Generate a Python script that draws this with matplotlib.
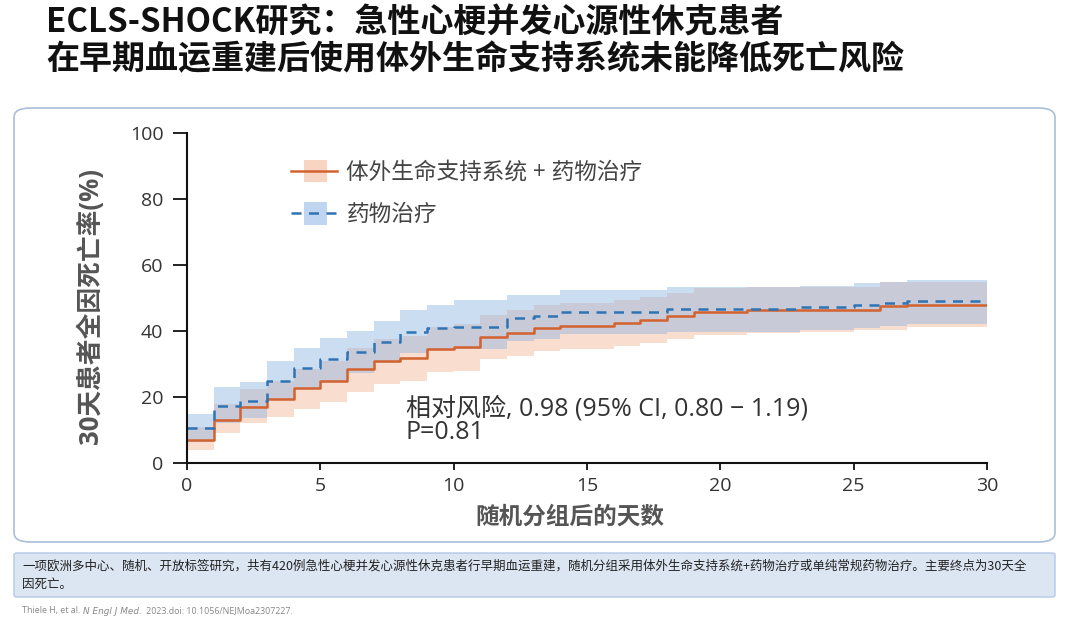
import matplotlib
matplotlib.use("Agg")
import matplotlib.pyplot as plt
import numpy as np
from matplotlib.patches import FancyBboxPatch, Rectangle
from matplotlib.lines import Line2D
from matplotlib.legend_handler import HandlerBase

plt.rcParams['font.family'] = ['Noto Sans CJK SC', 'DejaVu Sans']
LAT = ['Open Sans', 'Noto Sans CJK SC', 'DejaVu Sans']

# ---------------- data ----------------
days = list(range(0, 31))  # step starts; last value held to day 30
ecls = [7, 13, 17, 19.5, 22.7, 25, 28.4, 31, 31.8, 34.5, 35.2, 38.3, 39.5, 40.8, 41.5,
        41.5, 42.5, 43.3, 44.6, 45.9, 45.9, 46.4, 46.4, 46.4, 46.4, 46.4, 47.7, 47.8, 47.8, 47.8, 47.8]
ecls_lo = [4, 9, 12, 14, 16.5, 18.5, 21.5, 24, 25, 27.5, 28, 31.5, 32.5, 33.8, 34.5,
           34.5, 35.5, 36.3, 37.5, 38.8, 38.8, 39.4, 39.4, 39.8, 39.8, 40.3, 40.3, 41.3, 41.3, 41.3, 41.3]
ecls_hi = [11, 18, 22.5, 25, 28.5, 31, 35, 37.5, 38.5, 41.2, 42, 45, 46.5, 47.8, 48.5,
           48.5, 49.5, 50.3, 51.6, 52.9, 52.9, 53.4, 53.4, 53.4, 53.4, 53.4, 54.7, 54.8, 54.8, 54.8, 54.8]
ctrl = [10.6, 17.3, 18.8, 25, 28.7, 31.4, 33.7, 36.8, 39.8, 40.9, 41.3, 41.3, 43.9, 44.5, 45.9,
        45.9, 45.9, 45.9, 46.6, 46.6, 46.6, 46.6, 46.6, 47.2, 47.2, 47.9, 48.4, 49.0, 49.0, 49.0, 49.0]
ctrl_lo = [6.5, 12, 13.5, 19, 22.5, 25, 27.3, 30.2, 33.2, 34.2, 34.6, 34.6, 37, 37.6, 39,
           39, 39, 39, 39.7, 39.7, 39.7, 39.7, 39.7, 40.3, 40.3, 41, 41.5, 42.2, 42.2, 42.2, 42.2]
ctrl_hi = [15, 23, 24.6, 31, 35, 37.8, 40, 43, 46.4, 48, 49.4, 49.4, 51, 51, 52.4,
           52.4, 52.4, 52.4, 53.4, 53.4, 53.4, 53.4, 53.4, 53.6, 53.6, 54.5, 55, 55.5, 55.5, 55.5, 55.5]

x_ticks = [0, 5, 10, 15, 20, 25, 30]
y_ticks = [0, 20, 40, 60, 80, 100]

label_ecls = "体外生命支持系统 + 药物治疗"
label_ctrl = "药物治疗"
title_lines = ["ECLS-SHOCK研究：急性心梗并发心源性休克患者",
               "在早期血运重建后使用体外生命支持系统未能降低死亡风险"]
ylabel = "30天患者全因死亡率(%)"
xlabel = "随机分组后的天数"
annot = "相对风险, 0.98 (95% CI, 0.80 − 1.19)\nP=0.81"
footer = ("一项欧洲多中心、随机、开放标签研究，共有420例急性心梗并发心源性休克患者行早期血运重建，随机分组采用体外生命支持系统+药物治疗或单纯常规药物治疗。主要终点为30天全\n"
          "因死亡。")
cite_parts = ["Thiele H, et al. ", "N Engl J Med.", " 2023.doi: 10.1056/NEJMoa2307227."]

# ---------------- colours ----------------
c_or = "#D2622F"
c_bl = "#2E74B5"
f_or = "#F0A27A"
f_bl = "#8DB4E2"
a_or = 0.36
a_bl = 0.45

W, H = 1080, 625
fig = plt.figure(figsize=(W / 100, H / 100), dpi=100)
fig.patch.set_facecolor("white")

def fx(px):
    return px / W

def fy(py):
    return 1 - py / H

# title
fig.text(fx(46), fy(23), title_lines[0], fontsize=23.8, fontweight='heavy', color="#111111",
         va='center', ha='left')
fig.text(fx(46), fy(60), title_lines[1], fontsize=23.8, fontweight='heavy', color="#111111",
         va='center', ha='left')

# outer rounded panel
panel = FancyBboxPatch((fx(14), fy(542)), fx(1055) - fx(14), fy(108) - fy(542),
                       boxstyle="round,pad=0,rounding_size=0.015", transform=fig.transFigure,
                       facecolor="white", edgecolor="#A9BFDA", linewidth=1.2, zorder=-10)
fig.patches.append(panel)

# footer box
fbox = FancyBboxPatch((fx(14), fy(597)), fx(1055) - fx(14), fy(553) - fy(597),
                      boxstyle="round,pad=0,rounding_size=0.003", transform=fig.transFigure,
                      facecolor="#DCE6F2", edgecolor="#B4C7E7", linewidth=1.0, zorder=-10)
fig.patches.append(fbox)
fig.text(fx(22), fy(575), footer, fontsize=9.0, color="#222222", va='center', ha='left',
         linespacing=1.55)

# axes
ax = fig.add_axes([fx(187), fy(463), fx(987) - fx(187), fy(133) - fy(463)])
ax.set_facecolor("none")

xs = np.array(days, dtype=float)
ax.fill_between(xs, ecls_lo, ecls_hi, step='post', color=f_or, alpha=a_or, linewidth=0)
ax.fill_between(xs, ctrl_lo, ctrl_hi, step='post', color=f_bl, alpha=a_bl, linewidth=0)
ax.step(xs, ecls, where='post', color=c_or, linewidth=1.8)
ax.step(xs, ctrl, where='post', color=c_bl, linewidth=1.8, linestyle=(0, (4, 3)))

ax.set_xlim(0, 30)
ax.set_ylim(0, 100)
ax.set_xticks(x_ticks)
ax.set_yticks(y_ticks)
ax.tick_params(axis='both', labelsize=14, colors="#111111", width=1.3, direction='out')
ax.tick_params(axis='y', length=10, pad=7)
ax.tick_params(axis='x', length=5, pad=5)
for lab in ax.get_xticklabels() + ax.get_yticklabels():
    lab.set_color("#333333")
    lab.set_family(LAT)
for s in ['top', 'right']:
    ax.spines[s].set_visible(False)
for s in ['left', 'bottom']:
    ax.spines[s].set_linewidth(1.5)
    ax.spines[s].set_color("#111111")

ax.set_ylabel(ylabel, fontsize=18.5, fontweight='bold', color="#555555", family=LAT)
ax.yaxis.set_label_coords((104 - 187) / 800, (463 - 306) / 330)
ax.set_xlabel(xlabel, fontsize=17, fontweight='bold', color="#555555", va='center')
ax.xaxis.set_label_coords((570 - 187) / 800, (463 - 517) / 330)


class BandLineHandler(HandlerBase):
    def __init__(self, fill, alpha, color, ls):
        super().__init__()
        self.fill, self.alpha, self.color, self.ls = fill, alpha, color, ls

    def create_artists(self, legend, orig_handle, xdescent, ydescent, width, height,
                       fontsize, trans):
        rw = width * 0.5
        rect = Rectangle((-xdescent + width * 0.27, -ydescent - height * 0.15), rw, height * 1.3,
                         facecolor=self.fill, alpha=self.alpha + 0.1, edgecolor='none',
                         transform=trans)
        ln = Line2D([-xdescent, -xdescent + width], [height / 2 - ydescent] * 2,
                    color=self.color, lw=1.8, linestyle=self.ls, transform=trans)
        return [rect, ln]


h1 = Line2D([], [])
h2 = Line2D([], [], linestyle='--')
leg = ax.legend([h1, h2], [label_ecls, label_ctrl], loc='upper left',
                bbox_to_anchor=((291 - 187) / 800, (463 - 161) / 330), frameon=False,
                prop={'family': LAT, 'size': 16.3}, borderaxespad=0, borderpad=0,
                handlelength=2.05, handleheight=0.8, labelspacing=0.8, handletextpad=0.4,
                handler_map={h1: BandLineHandler(f_or, a_or, c_or, '-'),
                             h2: BandLineHandler(f_bl, a_bl, c_bl, (0, (4, 3)))})
for t in leg.get_texts():
    t.set_color("#444444")

ax.text(8.2, 12.9, annot, fontsize=18, color="#333333", va='center', ha='left',
        linespacing=0.96, family=LAT)

# citation, parts placed one after another
fig.canvas.draw()
r = fig.canvas.get_renderer()
xpos = fx(22)
for i, part in enumerate(cite_parts):
    t = fig.text(xpos, fy(611), part, fontsize=6.4, color="#888888", va='center', ha='left',
                 style='italic' if i == 1 else 'normal',
                 family=['DejaVu Sans'] if i == 1 else LAT)
    bb = t.get_window_extent(renderer=r)
    xpos += bb.width / W + (0.002 if i == 1 else 0)

fig.savefig("out.png", dpi=100)
